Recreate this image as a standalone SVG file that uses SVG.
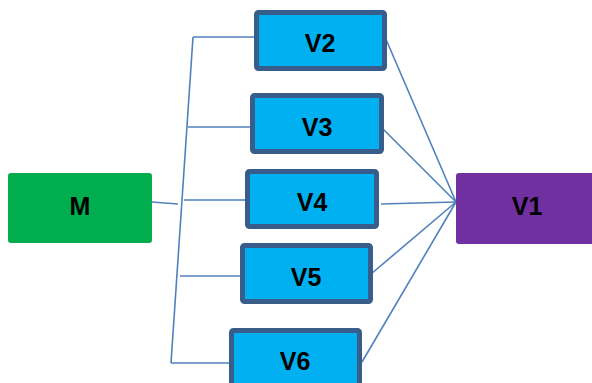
<svg xmlns="http://www.w3.org/2000/svg" width="592" height="383" viewBox="0 0 592 383">
<style>
.v rect{fill:#00B0F0;stroke:#385D8A;stroke-width:5}
text{font-family:"Liberation Sans",Arial,sans-serif;font-weight:bold;font-size:25px;fill:#000;text-anchor:middle}
#connectors line{stroke:#4F81BD;stroke-width:1.6;fill:none}
</style>
<rect width="592" height="383" fill="#fff"/>
<g id="connectors">
<line x1="193" y1="37" x2="171" y2="363"/>
<line x1="193" y1="37" x2="256" y2="37"/>
<line x1="188" y1="127" x2="252" y2="127"/>
<line x1="184" y1="200" x2="247" y2="200"/>
<line x1="180" y1="276" x2="242" y2="276"/>
<line x1="171" y1="363" x2="231" y2="363"/>
<line x1="152" y1="202" x2="178" y2="204"/>
<line x1="385" y1="37" x2="456" y2="202"/>
<line x1="381" y1="127" x2="456" y2="202"/>
<line x1="381" y1="204" x2="456" y2="202"/>
<line x1="371" y1="274" x2="456" y2="202"/>
<line x1="362" y1="362" x2="456" y2="202"/>
</g>
<g id="M"><rect x="8" y="173" width="144" height="70" rx="3" fill="#00AD4F"/><text x="80" y="215">M</text></g>
<g id="V1"><rect x="456" y="173" width="140" height="71" rx="3" fill="#7030A0"/><text x="527" y="215">V1</text></g>
<g id="V2" class="v"><rect x="256.5" y="12.5" width="128" height="56" rx="2"/><text x="320" y="52">V2</text></g>
<g id="V3" class="v"><rect x="252.5" y="95.5" width="129" height="56" rx="2"/><text x="317" y="136">V3</text></g>
<g id="V4" class="v"><rect x="247.5" y="171.5" width="129" height="55" rx="2"/><text x="312" y="211">V4</text></g>
<g id="V5" class="v"><rect x="242.5" y="245.5" width="128" height="56" rx="2"/><text x="306" y="286">V5</text></g>
<g id="V6" class="v"><rect x="231.5" y="330.5" width="128" height="56" rx="2"/><text x="295" y="370">V6</text></g>
</svg>
